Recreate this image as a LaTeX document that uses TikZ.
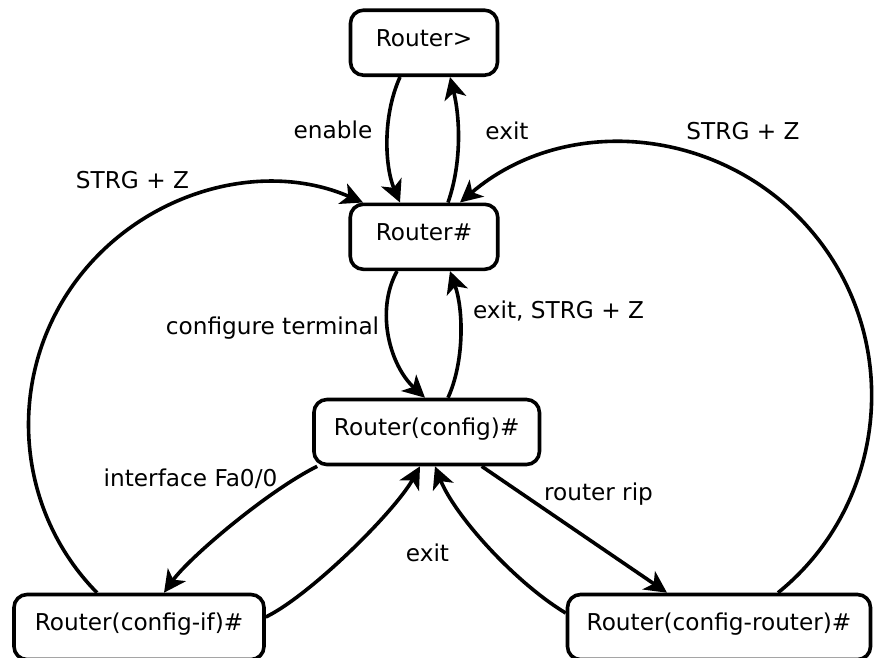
\documentclass[tikz,border=0pt]{standalone}
\usepackage{fontspec}
\setmainfont{DejaVu Sans}
\usetikzlibrary{arrows.meta,calc}
\begin{document}
\begin{tikzpicture}[x=1pt,y=-1pt,
  state/.style={draw,line width=3.6pt,rounded corners=13pt,minimum height=65pt,inner sep=0pt,
    text height=0.729em,text depth=0pt,font=\fontsize{23.2}{28}\selectfont},
  lbl/.style={anchor=base,inner sep=0pt,font=\fontsize{23.2}{28}\selectfont},
  conn/.style={line width=3.6pt,-{Stealth[length=22pt,width=22pt,inset=6pt]}}]
\useasboundingbox (0,0) rectangle (874,657);
% states
\node[state,minimum width=147pt] (r1) at (424,42.7) {Router>};
\node[state,minimum width=147.5pt] (r2) at (424,236.8) {Router\#};
\node[state,minimum width=225.5pt] (cfg) at (426.7,432) {Router(config)\#};
\node[state,minimum width=250pt] (cif) at (139,627) {Router(config-if)\#};
\node[state,minimum width=303pt] (crt) at (719,627) {Router(config-router)\#};
% helper coordinates on the big arcs
\coordinate (ml) at (70.6,288.5);
\coordinate (mr) at (814.7,235);
% connectors
\draw[conn] ($(r1.south)+(-24,0)$) .. controls +(-18,40) and +(-15,-35) .. ($(r2.north)+(-24,0)$);
\draw[conn] ($(r2.north)+(24,0)$) .. controls +(14,-40) and +(10,40) .. ($(r1.south)+(26,0)$);
\draw[conn] ($(r2.south)+(-27,0)$) .. controls +(-22,40) and +(-35,-32) .. ($(cfg.north)+(-1.7,0)$);
\draw[conn] ($(cfg.north)+(21.3,0)$) .. controls +(16,-35) and +(14,40) .. ($(r2.south)+(26,0)$);
\draw[conn] ($(cif.north)+(-42,0)$) .. controls (16.5,510.9) and (6,382.8) .. (ml)
   .. controls (135.2,194.2) and (258.3,157.2) .. ($(r2.north)+(-61,0)$);
\draw[conn] ($(crt.north)+(59,0)$) .. controls (887.2,504.4) and (902.8,343) .. (mr)
   .. controls (726.6,127) and (566.8,111.4) .. ($(r2.north)+(36,0)$);
\draw[conn] ($(cfg.south west)+(5,0)$) .. controls +(-50,25) and +(25,-35) .. ($(cif.north)+(25,0)$);
\draw[conn] ($(cif.east)+(0,-10)$) .. controls +(45,-22) and +(-25,45) .. ($(cfg.south)+(-6.7,0)$);
\draw[conn] ($(crt.west)+(0,-14)$) .. controls +(-50,-30) and +(20,50) .. ($(cfg.south)+(8.3,0)$);
\draw[conn] ($(cfg.south)+(55,0)$) -- ($(crt.north)+(-52,0)$);
% labels
\node[lbl] (l1) at (333,138.5) {enable};
\node[lbl] (l2) at (507,139) {exit};
\node[lbl] (l3) at (743,139.5) {STRG + Z};
\node[lbl] (l4) at (132.5,188) {STRG + Z};
\node[lbl] (l5) at (272.5,334) {configure terminal};
\node[lbl] (l6) at (558.5,318) {exit, STRG + Z};
\node[lbl] (l7) at (190.5,486) {interface Fa0/0};
\node[lbl] (l8) at (427.5,561) {exit};
\node[lbl] (l9) at (598.5,500) {router rip};
\end{tikzpicture}
\end{document}
